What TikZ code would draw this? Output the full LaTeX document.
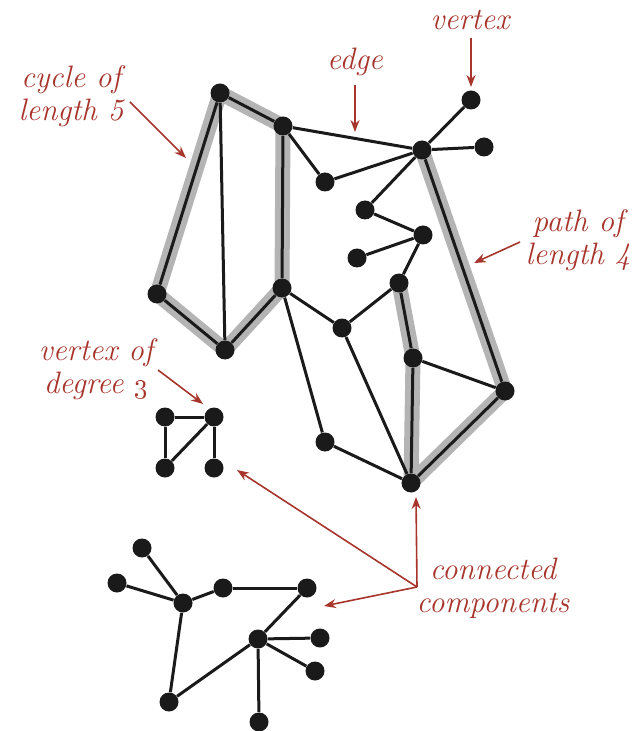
\documentclass[tikz,border=0pt]{standalone}
\usepackage{tikz}
\usetikzlibrary{arrows.meta,backgrounds}
\definecolor{labelred}{HTML}{A8352C}
\definecolor{pathgray}{HTML}{B4B4B4}
\definecolor{dotblack}{HTML}{1A1A1A}

\begin{document}
\begin{tikzpicture}[
    x=0.5pt,y=-0.5pt,
    vtx/.style={circle,fill=dotblack,inner sep=0pt,minimum size=9.5pt},
    edg/.style={line width=1.5pt,dotblack},
    hl/.style={line width=7.5pt,pathgray,line cap=round,line join=round},
    lbl/.style={text=labelred,align=center,font=\fontsize{15.5}{16.5}\selectfont\itshape},
    ann/.style={-{Stealth[length=6pt,width=4.5pt]},line width=0.8pt,labelred}
    ]
    \useasboundingbox (0,0) rectangle (633,731);
    % large component
    \node[vtx] (a) at (220,93) {};
    \node[vtx] (b) at (283,126) {};
    \node[vtx] (c) at (157,294) {};
    \node[vtx] (d) at (225,350) {};
    \node[vtx] (e) at (282,288) {};
    \node[vtx] (f) at (325,182) {};
    \node[vtx] (top) at (471,100) {};
    \node[vtx] (hub) at (422,150) {};
    \node[vtx] (rt) at (484,147) {};
    \node[vtx] (g) at (365,210) {};
    \node[vtx] (i) at (423,235) {};
    \node[vtx] (j) at (357,258) {};
    \node[vtx] (k) at (399,283) {};
    \node[vtx] (l) at (342,328) {};
    \node[vtx] (m) at (413,358) {};
    \node[vtx] (n) at (505,391) {};
    \node[vtx] (o) at (325,442) {};
    \node[vtx] (p) at (411,483) {};
    % small component
    \node[vtx] (q1) at (165,417) {};
    \node[vtx] (q2) at (214,417) {};
    \node[vtx] (q3) at (165,468) {};
    \node[vtx] (q4) at (214,468) {};
    % tree component
    \node[vtx] (t1) at (142,548) {};
    \node[vtx] (t2) at (117,583) {};
    \node[vtx] (t3) at (183,603) {};
    \node[vtx] (t4) at (223,588) {};
    \node[vtx] (t5) at (307,588) {};
    \node[vtx] (t6) at (258,639) {};
    \node[vtx] (t7) at (320,638) {};
    \node[vtx] (t8) at (315,671) {};
    \node[vtx] (t9) at (169,702) {};
    \node[vtx] (t10) at (259,722) {};
    % highlighted cycle and path
    \begin{scope}[on background layer]
        \draw[hl] (a.center) -- (b.center) -- (e.center) -- (d.center) -- (c.center) -- cycle;
        \draw[hl] (hub.center) -- (n.center) -- (p.center) -- (m.center) -- (k.center);
    \end{scope}
    \foreach \u/\v in {a/b,a/c,c/d,d/e,b/e,a/d,b/hub,b/f,f/hub,hub/top,hub/rt,hub/g,
        g/i,i/j,i/k,k/m,m/p,p/n,n/hub,m/n,e/l,k/l,l/p,e/o,o/p,
        q1/q2,q1/q3,q3/q2,q2/q4,
        t1/t3,t2/t3,t3/t4,t4/t5,t5/t6,t3/t9,t9/t6,t6/t7,t6/t8,t6/t10}
        \draw[edg] (\u) -- (\v);
    % labels
    \node[lbl] (cyc) at (71,96) {cycle of\\length 5};
    \node[lbl] (edgl) at (355,62) {edge};
    \node[lbl] (vtxl) at (470,20) {vertex};
    \node[lbl] (pth) at (578,240) {path of\\length 4};
    \node[lbl] (deg) at (96,369) {vertex of\\degree \oldstylenums{3}};
    \node[lbl] (cc) at (493,588) {connected\\components};
    % annotation arrows
    \coordinate (cycA) at (130,102);
    \coordinate (cycB) at (186,158);
    \coordinate (edgA) at (355,85);
    \coordinate (edgB) at (355,132);
    \coordinate (vtxA) at (471,38);
    \coordinate (vtxB) at (471,87);
    \coordinate (pthA) at (520,242);
    \coordinate (pthB) at (474,263);
    \coordinate (degA) at (158,370);
    \coordinate (degB) at (203,404);
    \coordinate (ccJ) at (417,587);
    \coordinate (ccUp) at (416,497);
    \coordinate (ccSm) at (237,470);
    \coordinate (ccTr) at (324,606);
    \draw[ann] (cycA) -- (cycB);
    \draw[ann] (edgA) -- (edgB);
    \draw[ann] (vtxA) -- (vtxB);
    \draw[ann] (pthA) -- (pthB);
    \draw[ann] (degA) -- (degB);
    \draw[ann] (ccJ) -- (ccUp);
    \draw[ann] (ccJ) -- (ccSm);
    \draw[ann] (ccJ) -- (ccTr);
\end{tikzpicture}
\end{document}
